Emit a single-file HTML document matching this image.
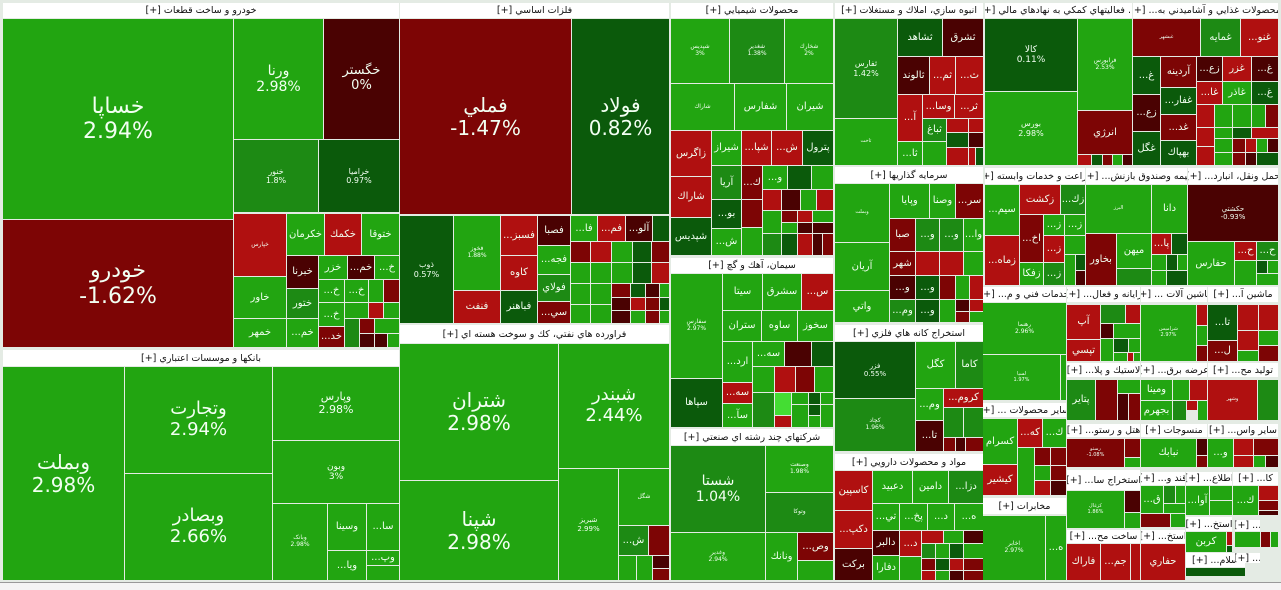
<!DOCTYPE html>
<html><head><meta charset="utf-8">
<style>
html,body{margin:0;padding:0;}
body{width:1281px;height:589px;background:#e4ebe4;position:relative;overflow:hidden;font-family:"DejaVu Sans","Liberation Sans",sans-serif;}
.c{position:absolute;display:flex;align-items:center;justify-content:center;text-align:center;color:#f2fff2;overflow:hidden;line-height:1.15;white-space:nowrap;}
.h{position:absolute;background:#fff;color:#111;font-size:9.5px;font-weight:normal;display:flex;align-items:center;justify-content:center;overflow:hidden;white-space:nowrap;direction:rtl;}
</style></head><body>
<div id="root"></div>
<script>
var C={g:"#22a511",m:"#1d8a14",d:"#0b5a0b",r:"#b01010",R:"#7d0505",D:"#4a0202",l:"#44dd33"};
var H=[
[3,3,399,18,"خودرو و ساخت قطعات [+]"],[3,350,399,366,"بانكها و موسسات اعتباري [+]"],
[400,3,669,18,"فلزات اساسي [+]"],[400,325,669,343,"فراورده هاي نفتي، كك و سوخت هسته اي [+]"],
[671,3,833,18,"محصولات شيميايي [+]"],[671,258,833,273,"سيمان، آهك و گچ [+]"],[671,429,833,445,"شركتهاي چند رشته اي صنعتي [+]"],
[835,3,983,18,"انبوه سازي، املاك و مستغلات [+]"],[835,167,983,183,"سرمايه گذاريها [+]"],[835,325,983,341,"استخراج كانه هاي فلزي [+]"],[835,454,983,470,"مواد و محصولات دارويي [+]"],
[985,3,1132,18,"... فعاليتهاي كمكي به نهادهاي مالي [+]"],[1133,3,1278,18,"محصولات غذايي و آشاميدني به... [+]"],
[985,168,1085,184,"زراعت و خدمات وابسته [+]"],[1086,168,1187,184,"بيمه وصندوق بازنش... [+]"],[1188,168,1278,184,"حمل ونقل، انبارد... [+]"],
[983,287,1066,302,"خدمات فني و م... [+]"],[1067,287,1140,302,"رايانه و فعال... [+]"],[1141,287,1207,302,"ماشين آلات ... [+]"],[1208,287,1278,302,"ماشين آ... [+]"],
[1067,363,1140,377,"لاستيك و پلا... [+]"],[1141,363,1207,377,"عرضه برق... [+]"],[1208,363,1278,377,"توليد مح... [+]"],
[983,403,1066,417,"ساير محصولات ... [+]"],[1067,424,1140,437,"هتل و رستو... [+]"],[1141,424,1207,437,"منسوجات [+]"],[1208,424,1278,437,"ساير واس... [+]"],
[983,498,1066,514,"مخابرات [+]"],[1067,470,1140,490,"استخراج سا... [+]"],[1141,472,1185,485,"قند و... [+]"],[1186,472,1232,485,"اطلاع... [+]"],[1233,472,1278,485,"كا... [+]"],
[1067,530,1140,543,"ساخت مح... [+]"],[1141,530,1185,543,"استخ... [+]"],[1186,517,1232,531,"استخ... [+]"],[1186,553,1245,567,"سلام... [+]"],[1235,520,1260,531,"... [+]"],[1235,553,1260,563,"... [+]"]
];
var X=[
[3,19,233,219,"g","خساپا<br>2.94%",22],[3,220,233,347,"R","خودرو<br>-1.62%",22],
[234,19,323,139,"g","ورنا<br>2.98%",14],[324,19,399,139,"D","خگستر<br>0%",13],
[234,140,318,212,"m","خنور<br>1.8%",8],[319,140,399,212,"d","خراميا<br>0.97%",8],
[234,214,286,276,"r","خپارس",6],[287,214,324,255,"g","خكرمان"],[325,214,361,255,"r","خكمك"],[362,214,399,255,"g","ختوقا"],
[234,277,286,318,"g","خاور"],[234,319,286,347,"g","خمهر"],[287,256,318,288,"D","خبرنا"],[287,289,318,318,"m","ختور"],[287,319,318,347,"g","...خم"],
[319,256,347,279,"g","خزر"],[348,256,374,279,"D","...خم"],[375,256,399,279,"g","...خ"],[319,280,344,302,"g","...خ"],[345,280,368,302,"g","...خ"],[369,280,383,302,"g"],[384,280,399,302,"R"],
[319,303,344,326,"g","...خ"],[345,303,368,318,"g"],[369,303,383,318,"r"],[384,303,399,318,"g"],[319,327,344,347,"R","...خد"],[345,319,359,347,"m"],[360,319,374,333,"R"],[375,319,399,333,"g"],[360,334,374,347,"D"],[375,334,387,347,"D"],[388,334,399,347,"g"],
[3,367,124,580,"g","وبملت<br>2.98%",20],[125,367,272,473,"g","وتجارت<br>2.94%",18],[125,474,272,580,"g","وبصادر<br>2.66%",18],
[273,367,399,440,"g","وپارس<br>2.98%",11],[273,441,399,503,"g","وبون<br>3%",9],[273,504,327,580,"g","وبانک<br>2.98%",6],
[328,504,366,550,"g","وسينا"],[367,504,399,550,"g","...سا"],[328,551,366,580,"g","...ويا"],[367,551,399,565,"g","...وپ"],[367,566,399,580,"g"],
[400,19,571,214,"R","فملي<br>-1.47%",20],[572,19,669,214,"d","فولاد<br>0.82%",20],
[400,216,453,323,"d","ذوب<br>0.57%",8],[454,216,500,290,"g","فخوز<br>1.88%",6],[454,291,500,323,"r","فنفت"],
[501,216,537,255,"r","...فسبز"],[501,256,537,290,"r","كاوه"],[501,291,537,323,"d","فباهنر"],
[538,216,570,245,"D","فصبا"],[538,246,570,274,"g","...فجه"],[538,275,570,301,"m","فولاي"],[538,302,570,323,"R","...سي"],
[571,216,597,241,"g","...فا"],[598,216,625,241,"r","...فم"],[626,216,652,241,"D","...آلو"],[653,216,669,241,"d"],
[571,242,590,262,"R"],[591,242,611,262,"r"],[612,242,632,262,"g"],[633,242,651,262,"d"],[652,242,669,262,"R"],
[571,263,590,283,"g"],[591,263,611,283,"g"],[612,263,632,283,"g"],[633,263,651,283,"d"],[652,263,669,283,"r"],
[571,284,590,304,"g"],[591,284,611,304,"g"],[612,284,630,297,"R"],[631,284,645,297,"d"],[646,284,659,297,"D"],[660,284,669,297,"g"],
[612,298,630,310,"D"],[631,298,645,310,"r"],[646,298,659,310,"R"],[660,298,669,310,"d"],
[571,305,590,323,"g"],[591,305,611,323,"g"],[612,311,630,323,"D"],[631,311,645,323,"g"],[646,311,659,323,"R"],[660,311,669,323,"g"],
[400,344,558,480,"g","شتران<br>2.98%",20],[400,481,558,580,"g","شپنا<br>2.98%",20],[559,344,669,468,"g","شبندر<br>2.44%",18],
[559,469,618,580,"g","شبريز<br>2.99%",7],[619,469,669,525,"g","شگل",6],[619,526,648,555,"m","...ش"],[649,526,669,555,"R"],
[619,556,636,580,"g"],[637,556,652,580,"g"],[653,556,669,568,"D"],[653,569,669,580,"R"],
[671,19,729,83,"g","شپديس<br>3%",6],[730,19,784,83,"m","شغدير<br>1.38%",6],[785,19,833,83,"g","شخارك<br>2%",6],
[671,84,734,130,"g","شاراك",6],[735,84,786,130,"g","شفارس"],[787,84,833,130,"g","شيران"],
[671,131,711,176,"r","زاگرس"],[712,131,741,165,"g","شيراز"],[742,131,771,165,"r","...شپا"],[772,131,802,165,"r","...ش"],[803,131,833,165,"d","پترول"],
[671,177,711,217,"r","شاراك"],[671,218,711,255,"d","شپديس"],
[712,166,741,199,"m","آريا"],[742,166,762,199,"R","...ك"],[712,200,741,228,"d","...بو"],[712,229,741,255,"g","...ش"],[742,200,762,227,"R"],[742,228,762,255,"g"],
[763,166,787,189,"g","...و"],[788,166,811,189,"d"],[812,166,833,189,"g"],
[763,190,781,210,"r"],[782,190,800,210,"D"],[801,190,816,210,"g"],[817,190,833,210,"r"],
[763,211,781,233,"g"],[782,211,797,222,"R"],[798,211,812,222,"r"],[813,211,833,222,"g"],[782,223,797,233,"g"],[798,223,812,233,"D"],[813,223,833,233,"D"],
[763,234,781,255,"m"],[782,234,797,255,"d"],[798,234,812,255,"r"],[813,234,822,255,"D"],[823,234,833,255,"R"],
[671,274,722,378,"g","سفارس<br>2.97%",6],[723,274,762,310,"g","سيتا"],[763,274,801,310,"g","سشرق"],[802,274,833,310,"r","...س"],
[723,311,761,341,"g","ستران"],[762,311,797,341,"g","ساوه"],[798,311,833,341,"g","سخوز"],[671,379,722,427,"d","سپاها"],
[723,342,752,382,"g","...ارد"],[723,383,752,403,"r","...سه"],[723,404,752,427,"g","...سآ"],
[753,342,784,366,"g","...سه"],[785,342,811,366,"D"],[812,342,833,366,"d"],
[753,367,774,392,"g"],[775,367,795,392,"r"],[796,367,814,392,"R"],[815,367,833,392,"g"],
[753,393,774,427,"m"],[775,393,791,415,"l"],[775,416,791,427,"r"],[792,393,808,404,"g"],[809,393,820,404,"d"],[821,393,833,404,"g"],[792,405,808,427,"g"],[809,405,820,415,"d"],[821,405,833,427,"g"],[809,416,820,427,"g"],
[671,446,765,532,"m","شستا<br>1.04%",14],[766,446,833,492,"g","وصنعت<br>1.98%",6],[766,493,833,532,"m","وتوكا",6],
[671,533,765,580,"g","وغدير<br>2.94%",6],[766,533,797,580,"g","ونانك"],[798,533,833,560,"R","...وص"],[798,561,833,580,"g"],
[835,19,897,118,"m","ثفارس<br>1.42%",8],[835,119,897,165,"g","ثاخت",5],[898,19,942,56,"d","ثشاهد"],[943,19,983,56,"D","ثشرق"],
[898,57,929,94,"D","ثالوند"],[930,57,955,94,"r","...ثم"],[956,57,983,94,"r","...ث"],
[898,95,922,141,"r","...آ"],[923,95,954,118,"r","...وسا"],[955,95,983,118,"r","...ثر"],
[898,142,922,165,"g","...ثا"],[923,119,946,141,"m","ثباغ"],[947,119,968,132,"r"],[969,119,983,132,"r"],
[923,142,946,165,"g"],[947,133,968,147,"d"],[969,133,983,147,"D"],[947,148,968,165,"r"],[969,148,975,165,"r"],[976,148,983,165,"d"],
[835,184,889,242,"g","وبملت",5],[835,243,889,290,"g","آريان"],[835,291,889,322,"g","واتي"],
[890,184,929,218,"g","وپايا"],[930,184,955,218,"g","وصنا"],[956,184,983,218,"R","...سر"],
[890,219,915,251,"R","صبا"],[916,219,939,251,"m","...و"],[940,219,963,251,"m","...و"],[964,219,983,251,"g","...وا"],
[890,252,915,275,"R","شهر"],[916,252,939,275,"r"],[940,252,963,275,"r"],[964,252,983,275,"g"],
[890,276,915,299,"D","...و"],[916,276,939,299,"d","...و"],[890,300,915,322,"m","...وم"],[916,300,939,322,"d","...و"],
[940,276,955,299,"R"],[956,276,969,299,"g"],[970,276,983,299,"r"],[940,300,955,322,"g"],[956,300,969,311,"D"],[970,300,983,311,"r"],[956,312,969,322,"R"],[970,312,983,322,"g"],
[835,342,915,398,"d","فزر<br>0.55%",7],[835,399,915,451,"m","كچاد<br>1.96%",6],[916,342,955,388,"g","كگل"],[956,342,983,388,"m","كاما"],
[916,389,943,420,"g","...وم"],[944,389,983,407,"r","...كروم"],[916,421,943,451,"D","...تا"],[944,408,963,437,"m"],[964,408,983,437,"m"],[944,438,955,451,"R"],[956,438,965,451,"D"],[966,438,983,451,"R"],
[835,471,872,510,"r","كاسپين"],[835,511,872,548,"r","...دكپ"],[835,549,872,580,"D","بركت"],
[873,471,912,503,"g","دعبيد"],[913,471,948,503,"g","دامين"],[949,471,983,503,"m","...دزا"],
[873,504,899,530,"g","...تي"],[900,504,927,530,"g","...پخ"],[928,504,954,530,"g","...د"],[955,504,983,530,"g","...ه"],
[873,531,899,555,"D","دالبر"],[873,556,899,580,"g","دفارا"],[900,531,921,556,"r","...د"],[922,531,943,543,"r"],[944,531,963,543,"g"],[964,531,983,543,"D"],
[900,557,921,580,"g"],[922,544,935,558,"m"],[936,544,949,558,"g"],[950,544,963,558,"d"],[964,544,983,558,"g"],
[922,559,935,570,"R"],[936,559,949,570,"d"],[950,559,963,570,"r"],[964,559,983,570,"R"],[922,571,935,580,"r"],[936,571,949,580,"g"],[950,571,963,580,"D"],[964,571,983,580,"R"],
[985,19,1077,91,"d","كالا<br>0.11%",9],[985,92,1077,165,"g","بورس<br>2.98%",8],[1078,19,1132,110,"g","فرابورس<br>2.53%",6],[1078,111,1132,154,"R","انرژي"],
[1078,155,1091,165,"r"],[1092,155,1102,165,"d"],[1103,155,1112,165,"R"],[1113,155,1122,165,"g"],[1123,155,1132,165,"D"],
[1133,19,1200,56,"R","غبشهر",5],[1201,19,1240,56,"m","غمايه"],[1241,19,1278,56,"r","...غنو"],
[1133,57,1160,94,"d","...غ"],[1161,57,1196,87,"R","آردينه"],[1197,57,1222,81,"D","...زع"],[1223,57,1251,81,"r","غزر"],[1252,57,1278,81,"D","...غ"],
[1133,95,1160,131,"D","...زع"],[1161,88,1196,114,"d","...غفار"],[1197,82,1222,104,"r","...غا"],[1223,82,1251,104,"g","غاذر"],[1252,82,1278,104,"d","...غ"],
[1133,132,1160,165,"d","غگل"],[1161,115,1196,140,"R","...غد"],[1161,141,1196,165,"d","بهپاك"],
[1197,105,1214,127,"r"],[1215,105,1232,127,"g"],[1233,105,1251,127,"g"],[1252,105,1265,127,"g"],[1266,105,1278,127,"R"],
[1197,128,1214,146,"r"],[1215,128,1232,138,"g"],[1233,128,1251,138,"d"],[1252,128,1278,138,"r"],
[1215,139,1232,152,"g"],[1233,139,1245,152,"R"],[1246,139,1256,152,"r"],[1257,139,1267,152,"g"],[1268,139,1278,152,"D"],
[1197,147,1214,165,"r"],[1215,153,1232,165,"g"],[1233,153,1245,165,"R"],[1246,153,1256,165,"D"],[1257,153,1278,165,"d"],
[985,185,1019,235,"g","...سيم"],[985,236,1019,285,"r","...زماه"],[1020,185,1060,214,"r","زكشت"],[1061,185,1085,214,"m","...زك"],
[1020,215,1043,262,"R","...اخ"],[1044,215,1064,235,"g","...ز"],[1065,215,1085,235,"g","...ز"],[1044,236,1064,262,"r","...ز"],[1065,236,1085,254,"g"],
[1020,263,1043,285,"g","زفكا"],[1044,263,1064,285,"m","...ز"],[1065,255,1075,285,"g"],[1076,255,1085,270,"d"],[1076,271,1085,285,"D"],
[1086,185,1151,233,"g","البرز",5],[1152,185,1187,233,"g","دانا"],[1086,234,1116,285,"R","بخاور"],[1117,234,1151,268,"g","ميهن"],[1117,269,1151,285,"m"],
[1152,234,1171,254,"r","...پا"],[1172,234,1187,254,"d"],[1152,255,1166,270,"g"],[1167,255,1177,270,"d"],[1178,255,1187,270,"g"],[1152,271,1166,285,"g"],[1167,271,1187,285,"d"],
[1188,185,1278,241,"D","حكشتي<br>-0.93%",7],[1188,242,1234,285,"g","حفارس"],[1235,242,1256,260,"r","...ح"],[1257,242,1278,260,"m","...ح"],
[1235,261,1256,285,"g"],[1257,261,1267,273,"d"],[1268,261,1278,273,"g"],[1257,274,1278,285,"g"],
[983,303,1066,354,"g","رهنما<br>2.96%",6],[983,355,1060,400,"g","لسپا<br>1.97%",5],[1061,355,1066,400,"g"],
[1067,305,1100,339,"r","آپ"],[1067,340,1100,361,"r","تپسي"],[1101,305,1125,323,"m"],[1126,305,1140,323,"r"],[1101,324,1113,338,"D"],[1114,324,1140,338,"g"],
[1101,339,1113,361,"g"],[1114,339,1128,352,"d"],[1129,339,1140,352,"g"],[1114,353,1127,361,"g"],[1128,353,1133,361,"r"],[1134,353,1140,361,"g"],
[1141,305,1196,361,"g","شراميس<br>2.97%",5],[1197,305,1207,325,"r"],[1197,326,1207,345,"g"],[1197,346,1207,361,"R"],
[1208,305,1237,340,"d","...تا"],[1208,341,1237,361,"R","...ل"],[1238,305,1258,330,"r"],[1259,305,1278,330,"r"],[1238,331,1258,350,"r"],[1259,331,1278,345,"g"],[1238,351,1258,361,"g"],[1259,346,1278,361,"R"],
[1067,380,1095,420,"m","پتاير"],[1096,380,1117,420,"R"],[1118,380,1140,393,"g"],[1118,394,1128,420,"D"],[1129,394,1140,420,"R"],
[1141,380,1172,400,"g","ومينا"],[1141,401,1172,420,"g","بجهرم"],[1173,380,1189,400,"g"],[1190,380,1207,400,"r"],[1173,401,1186,420,"m"],[1187,401,1197,410,"r"],[1198,401,1207,420,"g"],
[1208,380,1257,420,"r","وشهر",5],[1258,380,1278,420,"m"],
[983,419,1017,464,"g","كسرام"],[983,465,1017,495,"r","كيشير"],[1018,419,1042,447,"r","...كه"],[1043,419,1066,447,"g","...ك"],
[1018,448,1034,495,"g"],[1035,448,1050,465,"R"],[1051,448,1066,465,"R"],[1035,466,1050,480,"g"],[1051,466,1066,480,"R"],[1035,481,1050,495,"r"],[1051,481,1066,495,"D"],
[983,516,1045,580,"g","اخابر<br>2.97%",6],[1046,516,1066,580,"g","...ه"],
[1067,439,1124,467,"R","رستو<br>-1.08%",5],[1125,439,1140,457,"R"],[1125,458,1140,467,"g"],
[1141,439,1196,467,"g","نبابك"],[1197,439,1207,455,"D"],[1197,456,1207,467,"R"],
[1208,439,1233,467,"g","...و"],[1234,439,1253,455,"r"],[1254,439,1278,455,"R"],[1234,456,1253,467,"r"],[1254,456,1265,467,"g"],[1266,456,1278,467,"D"],
[1067,491,1124,528,"g","كزغال<br>1.86%",5],[1125,491,1140,512,"D"],[1125,513,1140,528,"g"],
[1141,486,1163,513,"g","...ق"],[1164,486,1175,503,"m"],[1176,486,1185,503,"g"],[1164,504,1185,513,"g"],[1141,514,1170,527,"R"],[1171,514,1185,527,"g"],
[1186,486,1209,515,"g","...آوا"],[1210,486,1232,500,"g"],[1210,501,1232,515,"g"],
[1233,486,1258,515,"g","...ك"],[1259,486,1278,500,"r"],[1259,501,1278,510,"R"],[1259,511,1278,515,"D"],
[1067,544,1100,580,"r","فاراك"],[1101,544,1130,580,"r","...جم"],[1131,544,1140,580,"r"],
[1141,544,1185,580,"r","حفاري"],
[1186,532,1226,552,"g","كربن"],[1227,532,1232,545,"r"],[1227,546,1232,552,"d"],
[1186,568,1245,576,"d"],
[1235,532,1260,547,"g"],[1261,532,1270,547,"R"],[1271,532,1278,547,"g"]
];
var root=document.getElementById("root"),s="";
H.forEach(function(h){s+='<div class="h" style="left:'+h[0]+'px;top:'+h[1]+'px;width:'+(h[2]-h[0])+'px;height:'+(h[3]-h[1])+'px">'+h[4]+'</div>';});
X.forEach(function(c){var fs=c[6]||10;var w=c[2]-c[0],hh=c[3]-c[1];
s+='<div class="c" style="left:'+c[0]+'px;top:'+c[1]+'px;width:'+w+'px;height:'+hh+'px;background:'+C[c[4]]+';font-size:'+fs+'px">'+(c[5]||"")+'</div>';});
s+='<div style="position:absolute;left:0;top:582px;width:1281px;height:7px;background:#f4f4f4;border-top:1px solid #999"></div>';
root.innerHTML=s;
</script>
</body></html>
